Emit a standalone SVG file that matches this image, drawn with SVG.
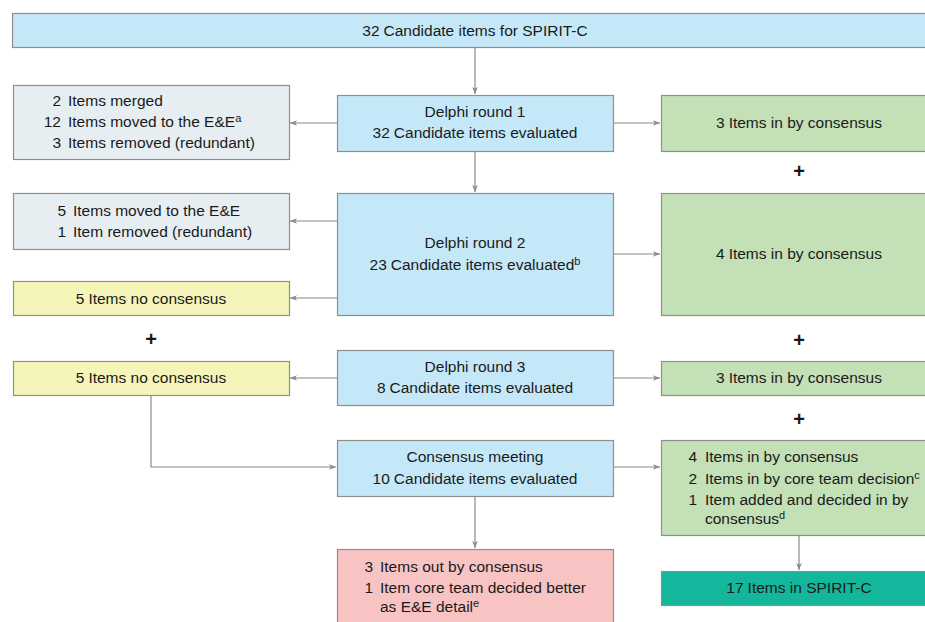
<svg xmlns="http://www.w3.org/2000/svg" width="925" height="622" viewBox="0 0 925 622">
<defs>
<style>
.box{stroke:#8f8f8f;stroke-width:1.2}
.blue{fill:#c5e8f8}.gray{fill:#e7eef2}.green{fill:#c4e0b7}.yellow{fill:#f5f5b9}.pink{fill:#f8c4c3}.teal{fill:#14b79b}
text{font-family:"Liberation Sans",Arial,sans-serif;font-size:15.5px;fill:#1a1a1a}
.c{text-anchor:middle}
.r{text-anchor:end}
.sup{font-size:11px}
.plus{font-size:20px;font-weight:bold;text-anchor:middle}
.conn{stroke:#8a8a8a;stroke-width:1.2;fill:none}
</style>
<marker id="ah" viewBox="0 0 10 10" refX="10" refY="5" markerWidth="7" markerHeight="7" orient="auto" markerUnits="userSpaceOnUse">
<path d="M0,1 L10,5 L0,9 L2.5,5 z" fill="#8a8a8a"/>
</marker>
</defs>
<rect width="925" height="622" fill="#fff"/>

<g id="connectors">
<path class="conn" d="M475,47 V94" marker-end="url(#ah)"/>
<path class="conn" d="M475,151 V192" marker-end="url(#ah)"/>
<path class="conn" d="M337,123 H290" marker-end="url(#ah)"/>
<path class="conn" d="M613,123 H660" marker-end="url(#ah)"/>
<path class="conn" d="M337,221 H290" marker-end="url(#ah)"/>
<path class="conn" d="M337,298 H290" marker-end="url(#ah)"/>
<path class="conn" d="M613,254 H660" marker-end="url(#ah)"/>
<path class="conn" d="M337,378 H290" marker-end="url(#ah)"/>
<path class="conn" d="M613,378 H660" marker-end="url(#ah)"/>
<path class="conn" d="M151,395 V467 H336" marker-end="url(#ah)"/>
<path class="conn" d="M613,467 H660" marker-end="url(#ah)"/>
<path class="conn" d="M475,496 V548" marker-end="url(#ah)"/>
<path class="conn" d="M799,535 V570" marker-end="url(#ah)"/>
</g>

<g id="top">
<rect class="box blue" x="12.5" y="13.5" width="920" height="34"/>
<text class="c" x="475" y="36">32<tspan dx="4">Candidate items for SPIRIT-C</tspan></text>
</g>

<g id="removed1">
<rect class="box gray" x="13.5" y="85.5" width="276" height="74"/>
<text class="r" x="61" y="106">2</text><text x="68" y="106">Items merged</text>
<text class="r" x="61" y="127">12</text><text x="68" y="127">Items moved to the E&amp;E<tspan class="sup" dy="-5">a</tspan></text>
<text class="r" x="61" y="148">3</text><text x="68" y="148">Items removed (redundant)</text>
</g>

<g id="delphi1">
<rect class="box blue" x="337.5" y="95.5" width="276" height="56"/>
<text class="c" x="475" y="117">Delphi round 1</text>
<text class="c" x="475" y="138">32<tspan dx="4">Candidate items evaluated</tspan></text>
</g>

<g id="in1">
<rect class="box green" x="661.5" y="95.5" width="270" height="56"/>
<text class="c" x="799" y="128">3<tspan dx="4">Items in by consensus</tspan></text>
</g>

<text class="plus" x="799" y="178">+</text>

<g id="removed2">
<rect class="box gray" x="13.5" y="193.5" width="276" height="56"/>
<text class="r" x="66" y="216">5</text><text x="73" y="216">Items moved to the E&amp;E</text>
<text class="r" x="66" y="237">1</text><text x="73" y="237">Item removed (redundant)</text>
</g>

<g id="noconsensus1">
<rect class="box yellow" x="13.5" y="281.5" width="276" height="34"/>
<text class="c" x="151" y="304">5<tspan dx="4">Items no consensus</tspan></text>
</g>

<g id="delphi2">
<rect class="box blue" x="337.5" y="193.5" width="276" height="122"/>
<text class="c" x="475" y="248">Delphi round 2</text>
<text class="c" x="475" y="270">23<tspan dx="4">Candidate items evaluated</tspan><tspan class="sup" dy="-5">b</tspan></text>
</g>

<g id="in2">
<rect class="box green" x="661.5" y="193.5" width="270" height="122"/>
<text class="c" x="799" y="259">4<tspan dx="4">Items in by consensus</tspan></text>
</g>

<text class="plus" x="151" y="346">+</text>
<text class="plus" x="799" y="347">+</text>

<g id="noconsensus2">
<rect class="box yellow" x="13.5" y="361.5" width="276" height="34"/>
<text class="c" x="151" y="383">5<tspan dx="4">Items no consensus</tspan></text>
</g>

<g id="delphi3">
<rect class="box blue" x="337.5" y="350.5" width="276" height="55"/>
<text class="c" x="475" y="372">Delphi round 3</text>
<text class="c" x="475" y="393">8<tspan dx="4">Candidate items evaluated</tspan></text>
</g>

<g id="in3">
<rect class="box green" x="661.5" y="361.5" width="270" height="34"/>
<text class="c" x="799" y="383">3<tspan dx="4">Items in by consensus</tspan></text>
</g>

<text class="plus" x="799" y="426">+</text>

<g id="consensusmeeting">
<rect class="box blue" x="337.5" y="440.5" width="276" height="56"/>
<text class="c" x="475" y="462">Consensus meeting</text>
<text class="c" x="475" y="484">10<tspan dx="4">Candidate items evaluated</tspan></text>
</g>

<g id="in4">
<rect class="box green" x="661.5" y="440.5" width="270" height="95"/>
<text class="r" x="697" y="462">4</text><text x="705" y="462">Items in by consensus</text>
<text class="r" x="697" y="484">2</text><text x="705" y="484">Items in by core team decision<tspan class="sup" dy="-5">c</tspan></text>
<text class="r" x="697" y="505">1</text><text x="705" y="505">Item added and decided in by</text>
<text x="705" y="524">consensus<tspan class="sup" dy="-5">d</tspan></text>
</g>

<g id="out">
<rect class="box pink" x="337.5" y="549.5" width="276" height="80"/>
<text class="r" x="373" y="572">3</text><text x="380" y="572">Items out by consensus</text>
<text class="r" x="373" y="593">1</text><text x="380" y="593">Item core team decided better</text>
<text x="380" y="612">as E&amp;E detail<tspan class="sup" dy="-5">e</tspan></text>
</g>

<g id="final">
<rect class="box teal" x="661.5" y="571.5" width="270" height="34"/>
<text class="c" x="799" y="593">17<tspan dx="4">Items in SPIRIT-C</tspan></text>
</g>
</svg>
